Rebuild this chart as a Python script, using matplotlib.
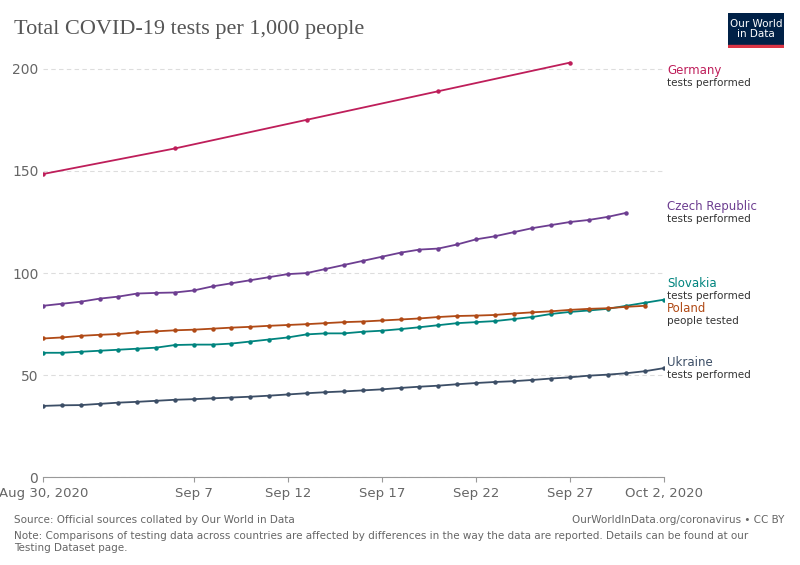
import matplotlib.pyplot as plt
import matplotlib.transforms as mtransforms
from matplotlib.patches import Rectangle
import datetime as dt

start = dt.date(2020, 8, 30)
def days(n, step=1):
    return [start + dt.timedelta(days=i * step) for i in range(n)]

germany = [148.5, 161, 175, 189, 203]
czech = [84, 85, 86, 87.5, 88.5, 90, 90.3, 90.5, 91.5, 93.5, 95, 96.5, 98, 99.5, 100, 102,
         104, 106, 108, 110, 111.5, 112, 114, 116.5, 118, 120, 122, 123.5, 125, 126, 127.5, 129.5]
poland = [68, 68.5, 69.3, 69.8, 70.2, 71, 71.5, 72, 72.3, 72.8, 73.3, 73.7, 74.2, 74.6, 75, 75.5,
          76, 76.3, 76.8, 77.3, 77.8, 78.5, 79, 79.2, 79.5, 80.2, 80.8, 81.3, 82, 82.5, 82.8, 83.5, 84]
slovakia = [61, 61, 61.5, 62, 62.5, 63, 63.5, 64.8, 65, 65, 65.5, 66.5, 67.5, 68.5, 70, 70.5, 70.5,
            71.3, 71.8, 72.6, 73.5, 74.5, 75.5, 76, 76.5, 77.5, 78.5, 80, 81, 81.7, 82.5, 84, 85.5, 87]
ukraine = [35, 35.3, 35.4, 36, 36.6, 37, 37.5, 38, 38.3, 38.7, 39.1, 39.5, 40, 40.6, 41.2, 41.7, 42.1,
           42.6, 43.1, 43.8, 44.4, 44.9, 45.6, 46.2, 46.7, 47.1, 47.7, 48.4, 49, 49.8, 50.3, 51, 52, 53.5]

# x, y, colour, name, subtitle, label position (name, sub)
series = [
    (days(5, 7), germany, '#BE1E5A', 'Germany', 'tests performed', 199, 193),
    (days(32), czech, '#6D3E91', 'Czech Republic', 'tests performed', 132.5, 126.5),
    (days(34), slovakia, '#00847E', 'Slovakia', 'tests performed', 95, 89),
    (days(33), poland, '#B04A16', 'Poland', 'people tested', 82.5, 76.5),
    (days(34), ukraine, '#3C4E66', 'Ukraine', 'tests performed', 56, 50),
]

fig = plt.figure(figsize=(8, 5.65), dpi=100)
ax = fig.add_axes([0.054, 0.155, 0.776, 0.745])
tr = mtransforms.blended_transform_factory(ax.transAxes, ax.transData)
for x, y, c, name, sub, ly, sy in series:
    ax.plot(x, y, color=c, lw=1.3, marker='o', ms=2.2)
    ax.text(1.005, ly, name, transform=tr, color=c, fontsize=8.5, va='center')
    ax.text(1.005, sy, sub, transform=tr, color='#333', fontsize=7.5, va='center')

ax.set_ylim(0, 206)
ax.set_xlim(start, start + dt.timedelta(days=33))
ax.set_yticks([0, 50, 100, 150, 200])
ticks = [start, dt.date(2020, 9, 7), dt.date(2020, 9, 12), dt.date(2020, 9, 17), dt.date(2020, 9, 22),
         dt.date(2020, 9, 27), dt.date(2020, 10, 2)]
ax.set_xticks(ticks)
ax.set_xticklabels(['Aug 30, 2020', 'Sep 7', 'Sep 12', 'Sep 17', 'Sep 22', 'Sep 27', 'Oct 2, 2020'])
ax.grid(axis='y', ls=(0, (4, 3)), color='#ddd', lw=0.8)
for s in ['top', 'right', 'left']:
    ax.spines[s].set_visible(False)
ax.spines['bottom'].set_color('#999')
ax.tick_params(axis='y', length=0, labelsize=10, colors='#666')
ax.tick_params(axis='x', labelsize=9.5, colors='#666', color='#999')
ax.set_axisbelow(True)

fig.text(0.018, 0.94, 'Total COVID-19 tests per 1,000 people', fontsize=16, family='Liberation Serif', color='#555')
fig.text(0.018, 0.075, 'Source: Official sources collated by Our World in Data', fontsize=7.5, color='#666')
fig.text(0.98, 0.075, 'OurWorldInData.org/coronavirus • CC BY', fontsize=7.5, color='#666', ha='right')
fig.text(0.018, 0.025, 'Note: Comparisons of testing data across countries are affected by differences in the way the data are reported. Details can be found at our\nTesting Dataset page.', fontsize=7.5, color='#666')

lax = fig.add_axes([0.91, 0.915, 0.07, 0.062])
lax.set_xlim(0, 1); lax.set_ylim(0, 1)
lax.add_patch(Rectangle((0, 0.1), 1, 0.9, color='#002147'))
lax.add_patch(Rectangle((0, 0), 1, 0.1, color='#DC3545'))
lax.set_xticks([]); lax.set_yticks([])
for s in lax.spines.values():
    s.set_visible(False)
lax.text(0.5, 0.55, 'Our World\nin Data', color='white', ha='center', va='center', fontsize=7.5, linespacing=1.0)
fig.savefig('out.png')
